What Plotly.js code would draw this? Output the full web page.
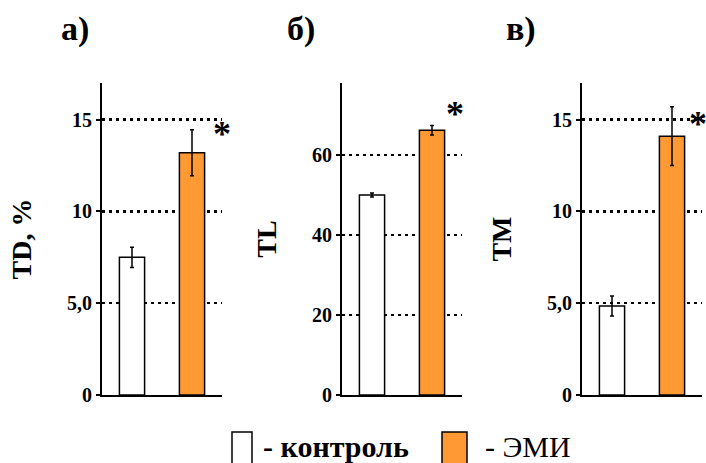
<!DOCTYPE html>
<html>
<head>
<meta charset="utf-8">
<script src="https://cdn.plot.ly/plotly-3.0.1.min.js"></script>
<style>html,body{margin:0;padding:0;background:#fff}#chart{width:706px;height:463px}</style>
</head>
<body>
<div id="chart"></div>
<script>
// ---- data ----
const groups = ["контроль", "ЭМИ"];
const panelLabels = ["а)", "б)", "в)"];
const axisTitles = ["TD, %", "TL", "TM"];
const tdValues = [7.5, 13.2];
const tdErrors = [0.55, 1.25];
const tlValues = [50.0, 66.2];
const tlErrors = [0.5, 1.2];
const tmValues = [4.85, 14.1];
const tmErrors = [0.55, 1.6];
const tickValsSmall = [0, 5, 10, 15];
const tickTextSmall = ["0", "5,0", "10", "15"];
const tickValsTL = [0, 20, 40, 60];
const tickTextTL = ["0", "20", "40", "60"];
const legendTexts = ["- контроль", "- ЭМИ"];

// ---- layout helpers ----
const W = 706, H = 463;
const px = x => x / W;
const py = y => 1 - y / H;
const ORANGE = "#FF9933";
const serif = "Liberation Serif";

const values = [tdValues, tlValues, tmValues];
const errors = [tdErrors, tlErrors, tmErrors];
const xPos = [0, 1];

const traces = values.map((v, i) => ({
  type: "bar",
  x: xPos,
  y: v,
  width: 0.42,
  xaxis: i === 0 ? "x" : "x" + (i + 1),
  yaxis: i === 0 ? "y" : "y" + (i + 1),
  marker: {color: ["#FFFFFF", ORANGE], line: {color: "#000", width: 1.5}},
  error_y: {type: "data", array: errors[i], visible: true, color: "#000", thickness: 1.5, width: 2},
  customdata: groups,
  hovertemplate: "%{customdata}: %{y}<extra></extra>",
  showlegend: false
}));

const axisLeft = [102, 342, 582];
const plotW = 120;

function xax(i) {
  return {
    domain: [px(axisLeft[i]), px(axisLeft[i] + plotW)],
    range: [-0.5, 1.5],
    showticklabels: false,
    ticks: "",
    showgrid: false,
    zeroline: false,
    showline: true,
    linecolor: "#000",
    linewidth: 2,
    anchor: i === 0 ? "y" : "y" + (i + 1),
    fixedrange: true
  };
}
function yax(i, range, tv, tt) {
  return {
    domain: [py(395), py(83)],
    range: range,
    tickvals: tv,
    ticktext: tt,
    ticks: "outside",
    ticklen: 4,
    tickwidth: 2,
    tickcolor: "#000",
    showline: true,
    linecolor: "#000",
    linewidth: 2,
    showgrid: true,
    gridcolor: "#000",
    gridwidth: 2.5,
    griddash: "3px,4px",
    zeroline: false,
    tickfont: {family: serif, size: 20, color: "#000", weight: "bold"},
    title: {text: axisTitles[i], font: {family: serif, size: 28, color: "#000", weight: "bold"}, standoff: 27},
    automargin: false,
    anchor: i === 0 ? "x" : "x" + (i + 1),
    fixedrange: true
  };
}

const annotations = [];
const labelX = [75, 301, 521];
panelLabels.forEach((t, i) => annotations.push({
  xref: "paper", yref: "paper", x: px(labelX[i]), y: py(29),
  xanchor: "center", yanchor: "middle", showarrow: false,
  text: t, font: {family: serif, size: 34, color: "#000", weight: "bold"}
}));
const starPos = [[222, 134], [455, 114], [698, 124]];
starPos.forEach(p => annotations.push({
  xref: "paper", yref: "paper", x: px(p[0]), y: py(p[1]),
  xanchor: "center", yanchor: "middle", showarrow: false,
  text: "*", font: {family: serif, size: 36, color: "#000", weight: "bold"}
}));
annotations.push({
  xref: "paper", yref: "paper", x: px(261), y: py(446),
  xanchor: "left", yanchor: "middle", showarrow: false,
  text: legendTexts[0], font: {family: serif, size: 30, color: "#000", weight: "bold"}
});
annotations.push({
  xref: "paper", yref: "paper", x: px(483), y: py(446),
  xanchor: "left", yanchor: "middle", showarrow: false,
  text: legendTexts[1], font: {family: serif, size: 30, color: "#000"}
});

const shapes = [
  {type: "rect", xref: "paper", yref: "paper", x0: px(232), x1: px(252), y0: py(432), y1: py(475),
   fillcolor: "#FFFFFF", line: {color: "#000", width: 1.5}},
  {type: "rect", xref: "paper", yref: "paper", x0: px(442), x1: px(467), y0: py(432), y1: py(475),
   fillcolor: ORANGE, line: {color: "#000", width: 1.5}}
];

const layout = {
  width: W, height: H,
  margin: {l: 0, r: 0, t: 0, b: 0},
  paper_bgcolor: "#fff", plot_bgcolor: "rgba(0,0,0,0)",
  showlegend: false,
  bargap: 0,
  xaxis: xax(0), xaxis2: xax(1), xaxis3: xax(2),
  yaxis: yax(0, [0, 17], tickValsSmall, tickTextSmall),
  yaxis2: yax(1, [0, 78], tickValsTL, tickTextTL),
  yaxis3: yax(2, [0, 17], tickValsSmall, tickTextSmall),
  annotations: annotations,
  shapes: shapes
};

Plotly.newPlot("chart", traces, layout, {displayModeBar: false, staticPlot: true});
</script>
</body>
</html>
